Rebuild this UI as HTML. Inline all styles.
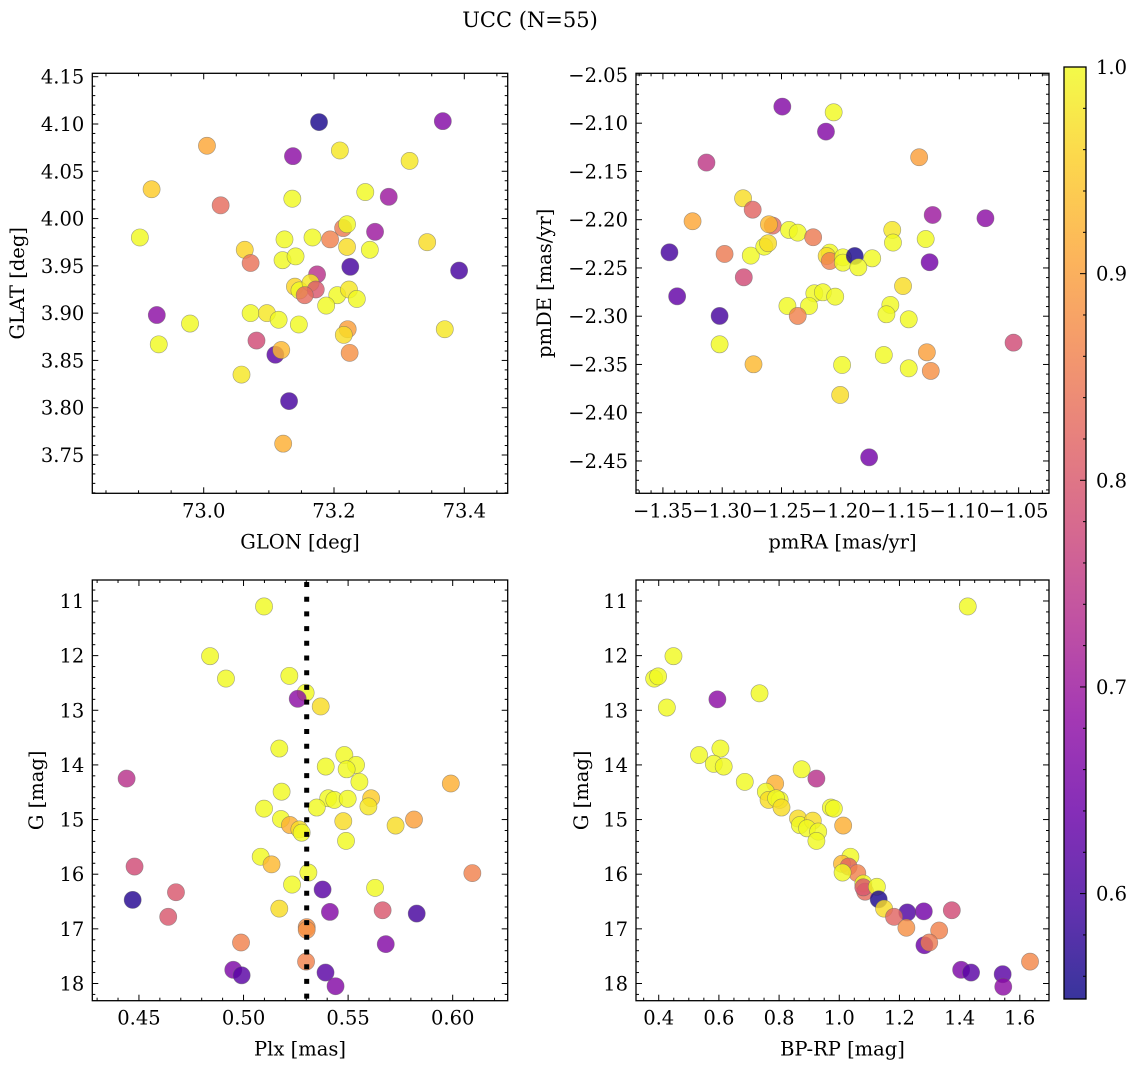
<!DOCTYPE html>
<html><head><meta charset="utf-8"><style>
html,body{margin:0;padding:0;background:#fff;}
svg{display:block;font-family:"DejaVu Serif","Liberation Serif",serif;}
</style></head>
<body>
<svg id="fig" width="1136" height="1067" viewBox="0 0 1136 1067" xmlns="http://www.w3.org/2000/svg">
<rect width="1136" height="1067" fill="#fff"/>
<text x="530" y="27" font-size="21" text-anchor="middle">UCC (N=55)</text>
<defs><linearGradient id="cbgrad" x1="0" y1="1" x2="0" y2="0"></linearGradient></defs>
</svg>
<script>
// ---- Panel 1: GLON vs GLAT ----
const tlGlon=[73.177,73.367,73.005,73.137,73.209,73.316,72.920,73.248,73.284,73.026,73.136,72.902,73.214,73.220,73.263,73.194,73.124,73.167,73.343,73.063,73.220,73.255,73.072,73.121,73.141,73.225,73.392,73.174,73.140,73.147,73.164,73.172,73.155,73.205,73.223,73.235,73.188,72.928,72.979,73.072,73.097,73.115,73.146,73.221,73.215,73.370,72.931,73.081,73.110,73.119,73.224,73.058,73.131,73.122];
const tlGlat=[4.102,4.103,4.077,4.066,4.072,4.061,4.031,4.028,4.023,4.014,4.021,3.980,3.990,3.994,3.986,3.978,3.978,3.980,3.975,3.967,3.970,3.967,3.953,3.956,3.960,3.949,3.945,3.941,3.928,3.924,3.932,3.925,3.919,3.919,3.925,3.915,3.908,3.898,3.889,3.900,3.900,3.893,3.888,3.883,3.877,3.883,3.867,3.871,3.856,3.861,3.858,3.835,3.807,3.762];
const tlProb=[0.56,0.67,0.91,0.68,0.98,0.98,0.95,1.0,0.70,0.83,1.0,1.0,0.85,1.0,0.70,0.86,1.0,1.0,0.97,0.96,0.97,1.0,0.84,1.0,1.0,0.60,0.60,0.74,0.96,1.0,0.98,0.80,0.83,1.0,0.98,1.0,1.0,0.68,1.0,1.0,0.98,1.0,1.0,0.90,0.97,0.98,1.0,0.78,0.62,0.93,0.88,0.98,0.60,0.92];
// ---- Panel 2: pmRA vs pmDE ----
const trPmra=[-1.2493,-1.206,-1.2125,-1.3133,-1.1339,-1.2824,-1.2743,-1.325,-1.1225,-1.078,-1.2574,-1.2606,-1.2437,-1.2363,-1.2233,-1.1566,-1.156,-1.1284,-1.3445,-1.298,-1.2759,-1.2645,-1.2613,-1.2093,-1.2119,-1.2093,-1.1982,-1.1982,-1.1882,-1.1735,-1.1852,-1.1251,-1.2818,-1.338,-1.1475,-1.2223,-1.2151,-1.2047,-1.245,-1.2268,-1.1582,-1.1615,-1.2363,-1.1427,-1.3022,-1.0543,-1.3022,-1.1637,-1.1274,-1.2736,-1.1989,-1.1427,-1.1241,-1.2005,-1.1761];
const trPmde=[-2.0828,-2.0887,-2.1087,-2.1408,-2.1353,-2.1778,-2.1896,-2.2016,-2.1951,-2.1985,-2.2061,-2.2048,-2.2106,-2.2134,-2.2182,-2.2106,-2.2237,-2.22,-2.2338,-2.2355,-2.2372,-2.2279,-2.2244,-2.2341,-2.2376,-2.2428,-2.239,-2.2445,-2.2376,-2.24,-2.2493,-2.2441,-2.2597,-2.2794,-2.2687,-2.2763,-2.2752,-2.2797,-2.2894,-2.2894,-2.2883,-2.298,-2.2997,-2.3032,-2.2997,-2.3274,-2.3291,-2.3402,-2.3374,-2.3498,-2.3505,-2.354,-2.3567,-2.3816,-2.4462];
const trProb=[0.67,1.0,0.67,0.75,0.90,0.97,0.82,0.91,0.70,0.68,0.83,0.93,1.0,1.0,0.85,0.98,1.0,1.0,0.60,0.85,1.0,1.0,0.97,1.0,0.97,0.86,1.0,1.0,0.56,1.0,1.0,0.65,0.78,0.63,0.97,1.0,1.0,1.0,1.0,1.0,1.0,1.0,0.86,1.0,0.60,0.78,1.0,1.0,0.90,0.93,1.0,1.0,0.88,0.97,0.65];
// ---- Panel 3: Plx vs G ----
const blPlx=[0.5098,0.4840,0.4916,0.5219,0.5297,0.5259,0.5369,0.5171,0.5482,0.5393,0.5538,0.5493,0.4441,0.5554,0.5991,0.5182,0.5405,0.5434,0.5498,0.5610,0.5350,0.5597,0.5098,0.5179,0.5222,0.5267,0.5278,0.5477,0.5815,0.5727,0.5490,0.5082,0.5134,0.4479,0.5310,0.6094,0.5232,0.5378,0.5629,0.4677,0.4470,0.5171,0.5413,0.5665,0.5828,0.4640,0.5302,0.5302,0.4988,0.5680,0.5299,0.4951,0.4991,0.5392,0.5440];
const blG=[11.10,12.01,12.42,12.37,12.68,12.79,12.93,13.70,13.82,14.03,14.00,14.08,14.25,14.31,14.34,14.49,14.61,14.64,14.62,14.61,14.78,14.76,14.80,14.99,15.10,15.18,15.24,15.03,15.00,15.11,15.39,15.68,15.82,15.86,15.97,15.98,16.19,16.28,16.25,16.33,16.47,16.63,16.69,16.66,16.72,16.78,16.97,17.02,17.25,17.28,17.60,17.75,17.85,17.80,18.05];
const blProb=[1.0,1.0,1.0,1.0,1.0,0.68,0.97,1.0,1.0,1.0,1.0,1.0,0.74,1.0,0.92,1.0,1.0,1.0,1.0,0.95,1.0,0.98,1.0,1.0,0.92,0.97,1.0,0.97,0.90,0.97,1.0,1.0,0.93,0.78,1.0,0.86,1.0,0.62,1.0,0.80,0.57,0.97,0.67,0.80,0.60,0.80,0.88,0.88,0.86,0.67,0.86,0.66,0.62,0.62,0.67];
const plxLine=[0.5302];
// ---- Panel 4: BP-RP vs G ----
const brCol=[1.427,0.449,0.385,0.398,0.735,0.595,0.427,0.605,0.534,0.583,0.616,0.875,0.924,0.686,0.787,0.756,0.765,0.802,0.790,0.808,0.972,0.982,0.863,0.869,1.013,0.912,0.893,0.930,0.924,1.037,1.009,1.031,1.060,1.011,1.080,1.086,1.080,1.125,1.131,1.149,1.226,1.281,1.374,1.182,1.223,1.332,1.283,1.299,1.634,1.405,1.438,1.543,1.545];
const brG=[11.10,12.01,12.42,12.38,12.69,12.80,12.95,13.70,13.82,13.98,14.03,14.08,14.25,14.31,14.34,14.49,14.64,14.64,14.61,14.78,14.78,14.80,14.98,15.10,15.11,15.02,15.16,15.22,15.39,15.68,15.81,15.86,15.98,15.97,16.17,16.32,16.24,16.23,16.46,16.63,16.70,16.68,16.66,16.78,16.98,17.03,17.30,17.25,17.60,17.75,17.80,17.83,18.06];
const brProb=[1.0,1.0,1.0,1.0,1.0,0.68,1.0,1.0,1.0,1.0,1.0,1.0,0.74,1.0,0.92,1.0,0.97,1.0,1.0,0.97,1.0,1.0,0.97,1.0,0.92,0.97,1.0,1.0,1.0,1.0,0.93,0.82,0.86,1.0,1.0,0.83,0.80,1.0,0.56,0.97,0.61,0.65,0.78,0.82,0.88,0.86,0.64,0.85,0.87,0.66,0.62,0.62,0.68];
// ---- Colorbar ----
const cbTicks=[0.6,0.7,0.8,0.9,1.0];
const cbRange=[0.549,1.0];

const NS="http://www.w3.org/2000/svg";
const svg=document.getElementById('fig');
const FS=19.5;
function mk(tag,attrs,parent){const e=document.createElementNS(NS,tag);for(const k in attrs)e.setAttribute(k,attrs[k]);(parent||svg).appendChild(e);return e;}
const stops=[[13,8,135],[65,4,157],[106,0,168],[143,13,164],[177,42,144],[204,71,120],[225,100,98],[242,132,75],[252,166,54],[252,206,37],[240,249,33]];
function plasma(t){t=Math.max(0,Math.min(1,t));const f=t*10,i=Math.min(9,Math.floor(f)),u=f-i;const a=stops[i],b=stops[i+1];return `rgb(${Math.round(a[0]+(b[0]-a[0])*u)},${Math.round(a[1]+(b[1]-a[1])*u)},${Math.round(a[2]+(b[2]-a[2])*u)})`;}
function cmap(v){return plasma((v-cbRange[0])/(cbRange[1]-cbRange[0]));}
function fmt(v,d){let s=v.toFixed(d);if(v<0)s='\u2212'+s.slice(1);return s;}

function panel(p){
  const g=mk('g',{});
  
  
  const sx=v=>p.x0+(v-p.xd[0])/(p.xd[1]-p.xd[0])*(p.x1-p.x0);
  const sy=v=>p.y1-(v-p.yd[0])/(p.yd[1]-p.yd[0])*(p.y1-p.y0);
  function ticks(dom,step,minor,isX,labels,dec){
    const lo=Math.min(dom[0],dom[1]),hi=Math.max(dom[0],dom[1]);
    for(let k=Math.ceil(lo/minor-1e-6);k*minor<=hi+1e-9;k++){
      const v=k*minor;const maj=Math.abs(v/step-Math.round(v/step))<1e-6;const L=maj?6:3;
      if(isX){const x=sx(v);mk('line',{x1:x,x2:x,y1:p.y1,y2:p.y1-L,stroke:'#000','stroke-width':1},g);mk('line',{x1:x,x2:x,y1:p.y0,y2:p.y0+L,stroke:'#000','stroke-width':1},g);
        if(maj&&labels){const t=mk('text',{x:x,y:p.y1+24,'font-size':FS,'text-anchor':'middle'},g);t.textContent=fmt(v,dec);}}
      else{const y=sy(v);mk('line',{x1:p.x0,x2:p.x0+L,y1:y,y2:y,stroke:'#000','stroke-width':1},g);mk('line',{x1:p.x1,x2:p.x1-L,y1:y,y2:y,stroke:'#000','stroke-width':1},g);
        if(maj&&labels){const t=mk('text',{x:p.x0-8,y:y+7,'font-size':FS,'text-anchor':'end'},g);t.textContent=fmt(v,dec);}}
    }
  }
  ticks(p.xd,p.xs,p.xm,true,true,p.xdec);
  ticks(p.yd,p.ys,p.ym,false,true,p.ydec);
  for(let i=0;i<p.xs_.length;i++){
    const c=mk('circle',{cx:sx(p.xs_[i]),cy:sy(p.ys_[i]),r:8.6,fill:cmap(p.c[i]),'fill-opacity':0.82,stroke:'#666','stroke-opacity':0.6,'stroke-width':0.6},g);
    
    
  }
  if(p.vline){for(const v of p.vline){const l=mk('line',{x1:sx(v),x2:sx(v),y1:p.y0+2,y2:p.y1,stroke:'#000','stroke-width':5,'stroke-dasharray':'5 9.7'},g);}}
  const fr=mk('rect',{x:p.x0,y:p.y0,width:p.x1-p.x0,height:p.y1-p.y0,fill:'none',stroke:'#000','stroke-width':1.3},g);
  
  const xl=mk('text',{x:(p.x0+p.x1)/2,y:p.y1+55,'font-size':FS,'text-anchor':'middle'},g);xl.textContent=p.xlab;
  
  const yx=p.ylx,yy=(p.y0+p.y1)/2;
  const yl=mk('text',{x:yx,y:yy,'font-size':FS,'text-anchor':'middle',transform:`rotate(-90 ${yx} ${yy})`},g);yl.textContent=p.ylab;
  
}
panel({name:'glon-glat-panel',x0:92.3,x1:507.7,y0:73.3,y1:493.3,xd:[72.829,73.4666],yd:[3.7095,4.1536],xs:0.2,xm:0.05,ys:0.05,ym:0.01,xdec:1,ydec:2,xs_:tlGlon,ys_:tlGlat,c:tlProb,xlab:'GLON [deg]',ylab:'GLAT [deg]',ylx:24});
panel({name:'pm-panel',x0:636,x1:1049,y0:73.3,y1:493.3,xd:[-1.3727,-1.0244],yd:[-2.4835,-2.0483],xs:0.05,xm:0.01,ys:0.05,ym:0.01,xdec:2,ydec:2,xs_:trPmra,ys_:trPmde,c:trProb,xlab:'pmRA [mas/yr]',ylab:'pmDE [mas/yr]',ylx:551});
panel({name:'plx-g-panel',x0:92.3,x1:507.7,y0:580,y1:1000.7,xd:[0.4277,0.6263],yd:[18.315,10.616],xs:0.05,xm:0.01,ys:1,ym:0.2,xdec:2,ydec:0,xs_:blPlx,ys_:blG,c:blProb,xlab:'Plx [mas]',ylab:'G [mag]',ylx:43,vline:plxLine});
panel({name:'cmd-panel',x0:636,x1:1049,y0:580,y1:1000.7,xd:[0.3245,1.697],yd:[18.315,10.616],xs:0.2,xm:0.05,ys:1,ym:0.2,xdec:1,ydec:0,xs_:brCol,ys_:brG,c:brProb,xlab:'BP-RP [mag]',ylab:'G [mag]',ylx:588});

const grad=document.getElementById('cbgrad');
for(let i=0;i<=10;i++){mk('stop',{offset:(i/10),'stop-color':plasma(i/10),'stop-opacity':0.82},grad);}
const cb=mk('g',{});
const cy0=67,cy1=999,cx0=1064,cx1=1086;
const cys=v=>cy1-(v-cbRange[0])/(cbRange[1]-cbRange[0])*(cy1-cy0);
mk('rect',{x:cx0,y:cy0,width:cx1-cx0,height:cy1-cy0,fill:'url(#cbgrad)',stroke:'#000','stroke-width':1.3},cb);
for(let k=28;k<=50;k++){const v=k*0.02;if(v<cbRange[0]||v>cbRange[1]+1e-9)continue;const y=cys(v);const maj=Math.abs(v*10-Math.round(v*10))<1e-6;mk('line',{x1:cx1,x2:cx1-(maj?6:3),y1:y,y2:y,stroke:'#000','stroke-width':1},cb);}
for(const v of cbTicks){const t=mk('text',{x:1096,y:cys(v)+7,'font-size':FS},cb);t.textContent=v.toFixed(1);}
</script>
</body></html>
